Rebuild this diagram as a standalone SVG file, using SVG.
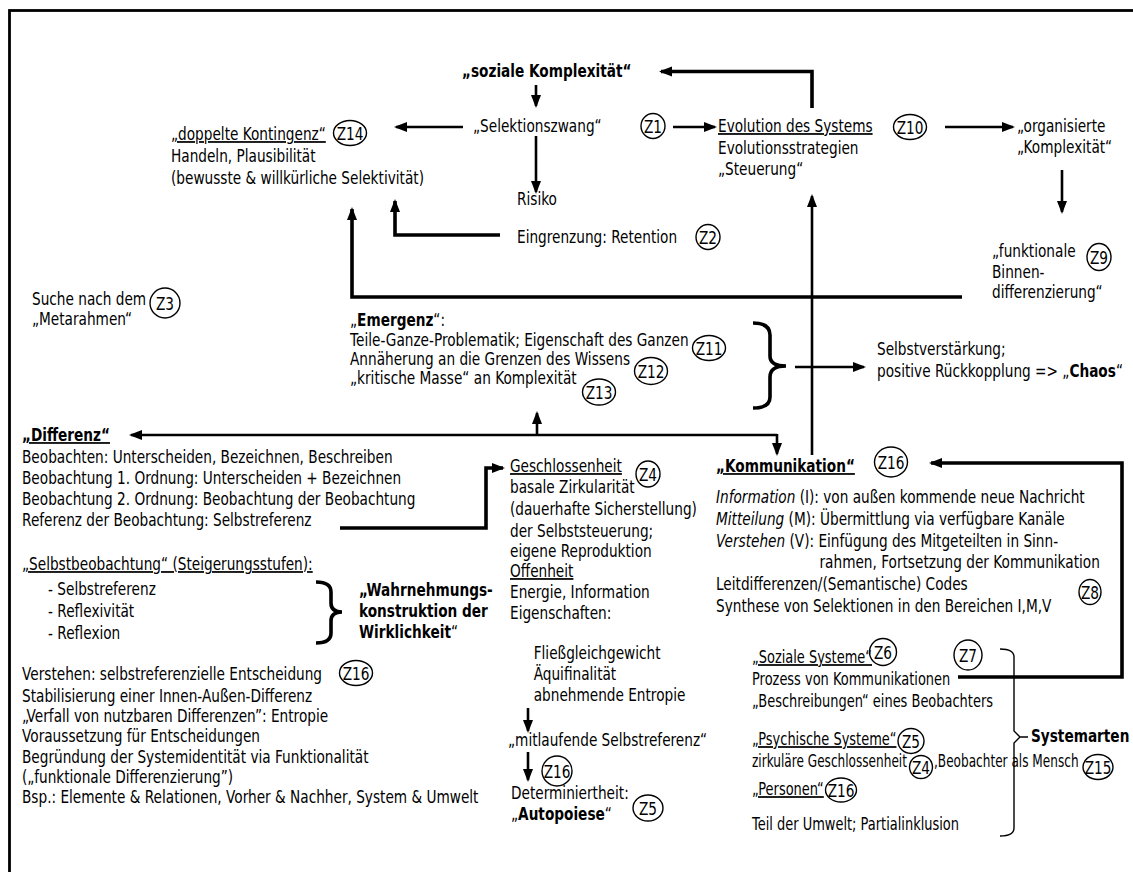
<svg xmlns="http://www.w3.org/2000/svg" width="1133" height="872" viewBox="0 0 1133 872">
<style>
text{font-family:"DejaVu Sans","Liberation Sans",sans-serif;font-size:17.3px;fill:#000}
.b{font-weight:bold}
.u{text-decoration:underline}
.i{font-style:italic}
.ln{fill:none;stroke:#000;stroke-width:2.6}
.tk{fill:none;stroke:#000;stroke-width:3.6}
.zc{fill:none;stroke:#000;stroke-width:1.4}
.br{fill:none;stroke:#000;stroke-width:1.4}
</style>
<defs>
<marker id="a" markerUnits="userSpaceOnUse" markerWidth="13" markerHeight="11" viewBox="0 0 13 11" refX="11" refY="5.5" orient="auto"><path d="M0,0.5 L13,5.5 L0,10.5 z" fill="#000"/></marker>
</defs>
<rect x="0" y="0" width="1133" height="872" fill="#fff"/>
<rect x="9.5" y="10.5" width="1200" height="1000" fill="none" stroke="#000" stroke-width="2.8"/>

<g id="connectors">
<path class="tk" d="M812,108 V71.5 H661" marker-end="url(#a)"/>
<path class="ln" d="M536,85 V106" marker-end="url(#a)"/>
<path class="ln" d="M463,127 H396" marker-end="url(#a)"/>
<path class="ln" d="M673,127 H715" marker-end="url(#a)"/>
<path class="ln" d="M536,136 V192" marker-end="url(#a)"/>
<path class="tk" d="M500,235 H395 V201" marker-end="url(#a)"/>
<path class="tk" d="M962,297 H352 V209" marker-end="url(#a)"/>
<path class="ln" d="M812,455 V196" marker-end="url(#a)"/>
<path class="ln" d="M945,127 H1013" marker-end="url(#a)"/>
<path class="ln" d="M1062,170 V212" marker-end="url(#a)"/>
<path class="tk" d="M753,323 Q770,323 770,335 L770,356 Q770,366 786,366 Q770,366 770,377 L770,397 Q770,408 753,408"/>
<path class="ln" d="M795,367 H864" marker-end="url(#a)"/>
<path class="ln" d="M777,435 H131" marker-end="url(#a)"/>
<path class="ln" d="M777,434 V454" marker-end="url(#a)"/>
<path class="ln" d="M537,435 V413" marker-end="url(#a)"/>
<path class="tk" d="M340,528 H486 V468 H503" marker-end="url(#a)"/>
<path class="tk" d="M316,582 Q331,582 331,592 L331,603 Q331,612 342,612 Q331,612 331,621 L331,633 Q331,643 316,643"/>
<path class="ln" d="M528,708 V731" marker-end="url(#a)"/>
<path class="ln" d="M528,752 V780" marker-end="url(#a)"/>
<path class="tk" d="M958,677 H1122 V463 H931" marker-end="url(#a)"/>
<path class="br" d="M1000,649 Q1014,649 1014,657 L1014,731 L1020,737 L1014,743 L1014,828 Q1014,836 1000,836 M1020,737 H1028"/>
</g>

<g id="soziale" transform="translate(462,77) scale(0.79,1)"><text class="b">„soziale Komplexität“</text></g>
<g id="selektion" transform="translate(473,132) scale(0.79,1)"><text>„Selektionszwang“</text></g>
<g id="kontingenz" transform="translate(171,140) scale(0.79,1)"><text><tspan x="0" y="0" class="u">„doppelte Kontingenz“</tspan><tspan x="0" y="22">Handeln, Plausibilität</tspan><tspan x="0" y="44">(bewusste &amp; willkürliche Selektivität)</tspan></text></g>
<g id="risiko" transform="translate(517,205) scale(0.79,1)"><text>Risiko</text></g>
<g id="eingrenzung" transform="translate(517,243) scale(0.79,1)"><text>Eingrenzung: Retention</text></g>
<g id="evolution" transform="translate(718,132) scale(0.79,1)"><text><tspan x="0" y="0" class="u">Evolution des Systems</tspan><tspan x="0" y="22">Evolutionsstrategien</tspan><tspan x="0" y="43">„Steuerung“</tspan></text></g>
<g id="organisiert" transform="translate(1017,132) scale(0.79,1)"><text><tspan x="0" y="0">„organisierte</tspan><tspan x="0" y="21">„Komplexität“</tspan></text></g>
<g id="binnen" transform="translate(992,257) scale(0.79,1)"><text><tspan x="0" y="0">„funktionale</tspan><tspan x="0" y="21">Binnen-</tspan><tspan x="0" y="41">differenzierung“</tspan></text></g>
<g id="metarahmen" transform="translate(32,305) scale(0.79,1)"><text><tspan x="0" y="0">Suche nach dem</tspan><tspan x="0" y="20">„Metarahmen“</tspan></text></g>
<g id="emergenz" transform="translate(350,326) scale(0.79,1)"><text><tspan x="0" y="0">„<tspan class="b">Emergenz</tspan>“:</tspan><tspan x="0" y="20">Teile-Ganze-Problematik; Eigenschaft des Ganzen</tspan><tspan x="0" y="39">Annäherung an die Grenzen des Wissens</tspan><tspan x="0" y="58">„kritische Masse“ an Komplexität</tspan></text></g>
<g id="chaos" transform="translate(877,355) scale(0.79,1)"><text><tspan x="0" y="0">Selbstverstärkung;</tspan><tspan x="0" y="22">positive Rückkopplung =&gt; „<tspan class="b">Chaos</tspan>“</tspan></text></g>
<g id="differenz" transform="translate(22,441) scale(0.79,1)"><text><tspan x="0" y="0" class="b u">„Differenz“</tspan><tspan x="0" y="22">Beobachten: Unterscheiden, Bezeichnen, Beschreiben</tspan><tspan x="0" y="43">Beobachtung 1. Ordnung: Unterscheiden + Bezeichnen</tspan><tspan x="0" y="64">Beobachtung 2. Ordnung: Beobachtung der Beobachtung</tspan><tspan x="0" y="85">Referenz der Beobachtung: Selbstreferenz</tspan></text></g>
<g id="selbstbeobachtung" transform="translate(22,570) scale(0.79,1)"><text><tspan x="0" y="0" class="u">„Selbstbeobachtung“ (Steigerungsstufen):</tspan><tspan x="33" y="25">- Selbstreferenz</tspan><tspan x="33" y="47">- Reflexivität</tspan><tspan x="33" y="69">- Reflexion</tspan></text></g>
<g id="wahrnehmung" transform="translate(359,596) scale(0.79,1)"><text class="b"><tspan x="0" y="0">„Wahrnehmungs-</tspan><tspan x="0" y="21">konstruktion der</tspan><tspan x="0" y="42">Wirklichkeit<tspan font-weight="normal">“</tspan></tspan></text></g>
<g id="verstehen" transform="translate(22,680) scale(0.79,1)"><text><tspan x="0" y="0">Verstehen: selbstreferenzielle Entscheidung</tspan><tspan x="0" y="22">Stabilisierung einer Innen-Außen-Differenz</tspan><tspan x="0" y="42">„Verfall von nutzbaren Differenzen”: Entropie</tspan><tspan x="0" y="62">Voraussetzung für Entscheidungen</tspan><tspan x="0" y="83">Begründung der Systemidentität via Funktionalität</tspan><tspan x="0" y="103">(„funktionale Differenzierung”)</tspan><tspan x="0" y="123">Bsp.: Elemente &amp; Relationen, Vorher &amp; Nachher, System &amp; Umwelt</tspan></text></g>
<g id="geschlossenheit" transform="translate(510,472) scale(0.79,1)"><text><tspan x="0" y="0" class="u">Geschlossenheit</tspan><tspan x="0" y="21">basale Zirkularität</tspan><tspan x="0" y="43">(dauerhafte Sicherstellung)</tspan><tspan x="0" y="65">der Selbststeuerung;</tspan><tspan x="0" y="85">eigene Reproduktion</tspan><tspan x="0" y="105" class="u">Offenheit</tspan><tspan x="0" y="126">Energie, Information</tspan><tspan x="0" y="147">Eigenschaften:</tspan><tspan x="30" y="187">Fließgleichgewicht</tspan><tspan x="30" y="208">Äquifinalität</tspan><tspan x="30" y="229">abnehmende Entropie</tspan></text></g>
<g id="mitlaufend" transform="translate(508,746) scale(0.79,1)"><text>„mitlaufende Selbstreferenz“</text></g>
<g id="autopoiese" transform="translate(511,799) scale(0.79,1)"><text><tspan x="0" y="0">Determiniertheit:</tspan><tspan x="0" y="21">„<tspan class="b">Autopoiese</tspan>“</tspan></text></g>
<g id="kommunikation" transform="translate(716,472) scale(0.79,1)"><text><tspan x="0" y="0" class="b u">„Kommunikation“</tspan><tspan x="0" y="31"><tspan class="i">Information</tspan> (I): von außen kommende neue Nachricht</tspan><tspan x="0" y="53"><tspan class="i">Mitteilung</tspan> (M): Übermittlung via verfügbare Kanäle</tspan><tspan x="0" y="75"><tspan class="i">Verstehen</tspan> (V): Einfügung des Mitgeteilten in Sinn-</tspan><tspan x="131" y="96">rahmen, Fortsetzung der Kommunikation</tspan><tspan x="0" y="118">Leitdifferenzen/(Semantische) Codes</tspan><tspan x="0" y="140">Synthese von Selektionen in den Bereichen I,M,V</tspan></text></g>
<g id="sozialesysteme" transform="translate(752,663) scale(0.75,1)"><text><tspan x="0" y="0" class="u">„Soziale Systeme“</tspan><tspan x="0" y="22">Prozess von Kommunikationen</tspan><tspan x="0" y="44">„Beschreibungen“ eines Beobachters</tspan></text></g>
<g id="psychisch" transform="translate(752,745) scale(0.75,1)"><text class="u">„Psychische Systeme“</text></g>
<g id="zirkulaer" transform="translate(752,767) scale(0.70,1)"><text>zirkuläre Geschlossenheit</text></g>
<g id="mensch" transform="translate(934,767) scale(0.70,1)"><text>,Beobachter als Mensch</text></g>
<g id="personen" transform="translate(752,795) scale(0.75,1)"><text><tspan x="0" y="0" class="u">„Personen“</tspan><tspan x="0" y="35">Teil der Umwelt; Partialinklusion</tspan></text></g>
<g id="systemarten" transform="translate(1031,742) scale(0.79,1)"><text class="b">Systemarten</text></g>

<g id="z14"><ellipse class="zc" cx="350" cy="133" rx="16.5" ry="12.5"/><text transform="translate(350,139.5) scale(0.79,1)" text-anchor="middle">Z14</text></g>
<g id="z1"><ellipse class="zc" cx="653" cy="126" rx="12" ry="12.5"/><text transform="translate(653,132.5) scale(0.79,1)" text-anchor="middle">Z1</text></g>
<g id="z2"><ellipse class="zc" cx="708" cy="237" rx="12" ry="12.5"/><text transform="translate(708,243.5) scale(0.79,1)" text-anchor="middle">Z2</text></g>
<g id="z10"><ellipse class="zc" cx="910" cy="127" rx="16.5" ry="12.5"/><text transform="translate(910,133.5) scale(0.79,1)" text-anchor="middle">Z10</text></g>
<g id="z9"><ellipse class="zc" cx="1099" cy="257" rx="12" ry="13.5"/><text transform="translate(1099,263.5) scale(0.79,1)" text-anchor="middle">Z9</text></g>
<g id="z3"><ellipse class="zc" cx="165" cy="303" rx="15" ry="15"/><text transform="translate(165,309.5) scale(0.79,1)" text-anchor="middle">Z3</text></g>
<g id="z11"><ellipse class="zc" cx="709" cy="348" rx="16.5" ry="12.5"/><text transform="translate(709,354.5) scale(0.79,1)" text-anchor="middle">Z11</text></g>
<g id="z12"><ellipse class="zc" cx="651" cy="371" rx="16.5" ry="13.5"/><text transform="translate(651,377.5) scale(0.79,1)" text-anchor="middle">Z12</text></g>
<g id="z13"><ellipse class="zc" cx="599" cy="392" rx="16.5" ry="13"/><text transform="translate(599,398.5) scale(0.79,1)" text-anchor="middle">Z13</text></g>
<g id="z4a"><ellipse class="zc" cx="648" cy="474" rx="12" ry="13"/><text transform="translate(648,480.5) scale(0.79,1)" text-anchor="middle">Z4</text></g>
<g id="z16a"><ellipse class="zc" cx="891" cy="462" rx="16.5" ry="15"/><text transform="translate(891,468.5) scale(0.79,1)" text-anchor="middle">Z16</text></g>
<g id="z8"><ellipse class="zc" cx="1090" cy="592" rx="11" ry="12.5"/><text transform="translate(1090,598.5) scale(0.79,1)" text-anchor="middle">Z8</text></g>
<g id="z16b"><ellipse class="zc" cx="356" cy="673" rx="16.5" ry="12.5"/><text transform="translate(356,679.5) scale(0.79,1)" text-anchor="middle">Z16</text></g>
<g id="z6"><ellipse class="zc" cx="883" cy="652" rx="13.5" ry="13.5"/><text transform="translate(883,658.5) scale(0.79,1)" text-anchor="middle">Z6</text></g>
<g id="z7"><ellipse class="zc" cx="968" cy="655" rx="14" ry="15"/><text transform="translate(968,661.5) scale(0.79,1)" text-anchor="middle">Z7</text></g>
<g id="z5a"><ellipse class="zc" cx="911" cy="741" rx="13" ry="12.5"/><text transform="translate(911,747.5) scale(0.79,1)" text-anchor="middle">Z5</text></g>
<g id="z4b"><ellipse class="zc" cx="921" cy="767" rx="11.5" ry="11.5"/><text transform="translate(921,773.5) scale(0.79,1)" text-anchor="middle">Z4</text></g>
<g id="z15"><ellipse class="zc" cx="1098" cy="767" rx="15" ry="12.5"/><text transform="translate(1098,773.5) scale(0.79,1)" text-anchor="middle">Z15</text></g>
<g id="z16c"><ellipse class="zc" cx="841" cy="790" rx="15.5" ry="12"/><text transform="translate(841,796.5) scale(0.79,1)" text-anchor="middle">Z16</text></g>
<g id="z16d"><ellipse class="zc" cx="557" cy="771" rx="15" ry="15"/><text transform="translate(557,777.5) scale(0.79,1)" text-anchor="middle">Z16</text></g>
<g id="z5b"><ellipse class="zc" cx="648" cy="808" rx="15" ry="13"/><text transform="translate(648,814.5) scale(0.79,1)" text-anchor="middle">Z5</text></g>
</svg>
